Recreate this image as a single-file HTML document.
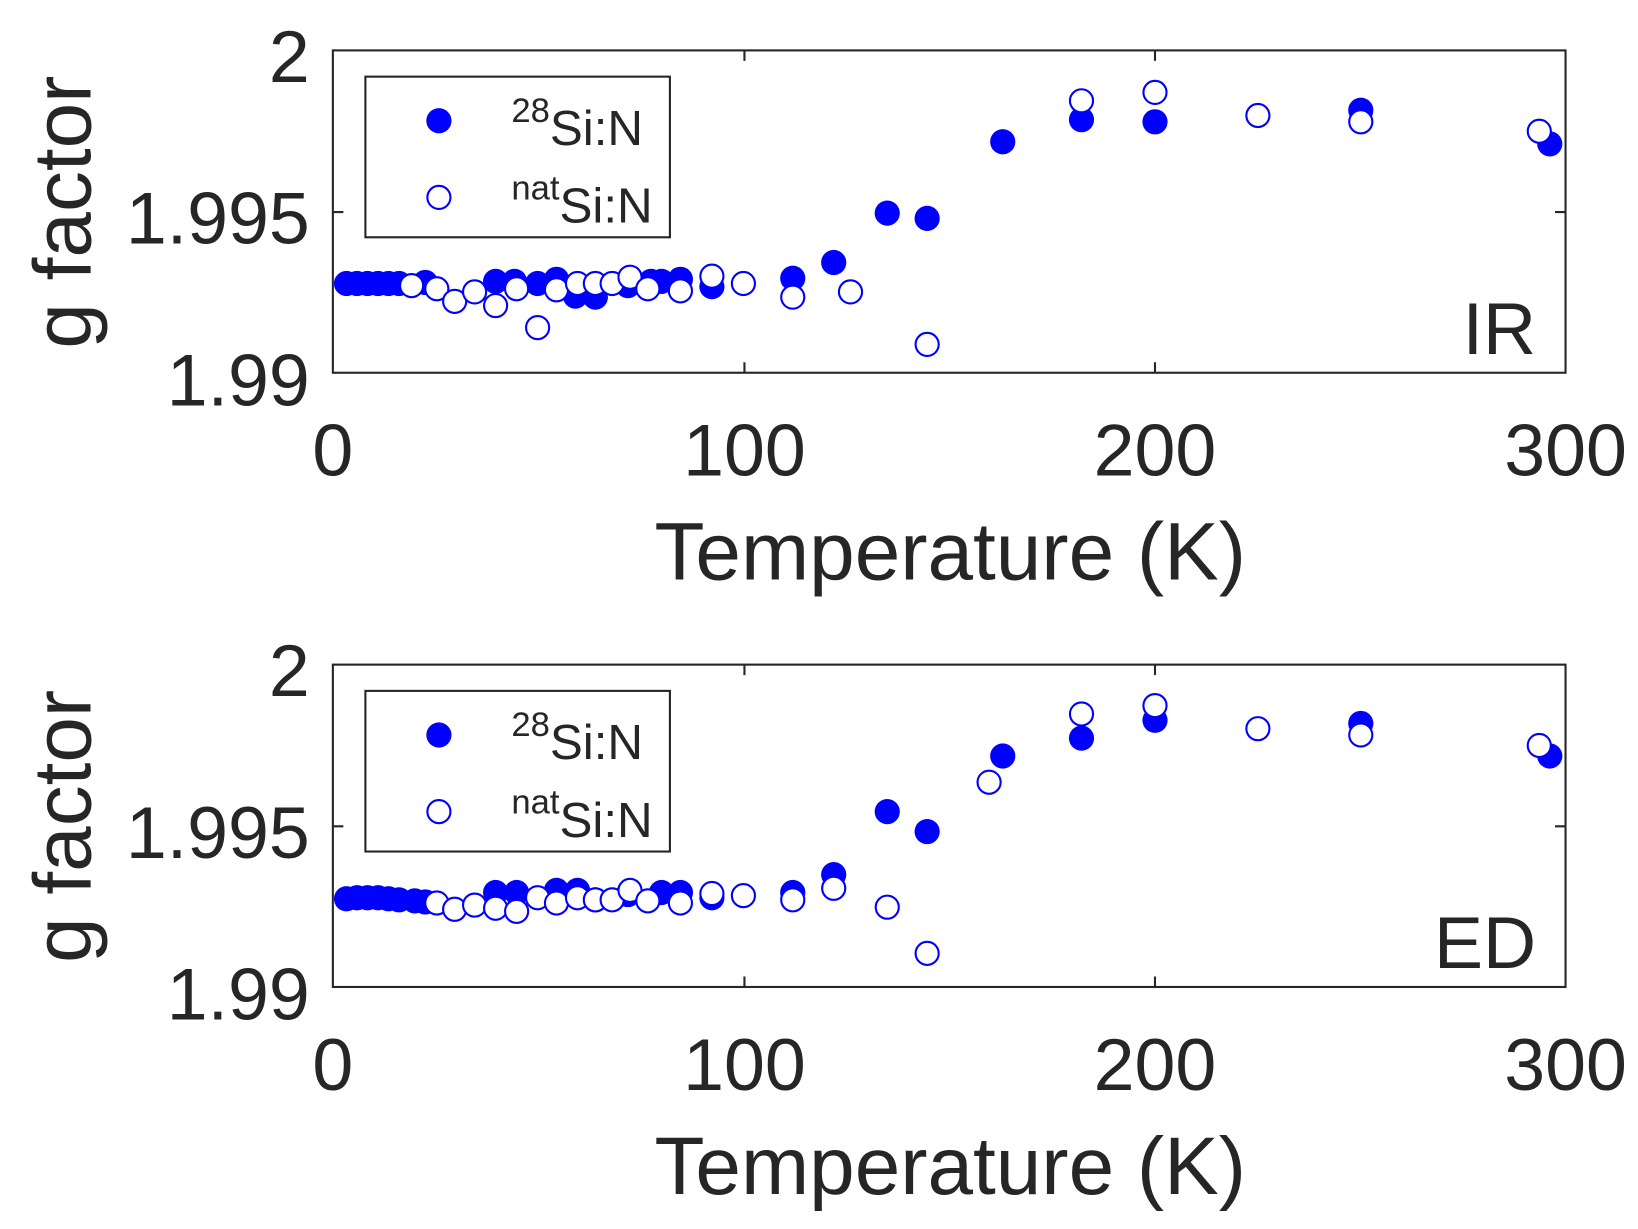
<!DOCTYPE html>
<html><head><meta charset="utf-8"><style>html,body{margin:0;padding:0;background:#fff}svg{display:block}</style></head>
<body>
<svg width="1638" height="1229" viewBox="0 0 1560 1170.5" xmlns="http://www.w3.org/2000/svg" font-family="Liberation Sans, sans-serif" fill="#262626">
<defs>
<g id="axes">
<rect x="317" y="48" width="1174" height="307" fill="none" stroke="#262626" stroke-width="2"/>
<path d="M709 48v10M1100 48v10M709 355v-10M1100 355v-10M317 202h10M1491 202h-10" stroke="#262626" stroke-width="2"/>
<g font-size="70" text-anchor="end"><text x="295" y="78">2</text><text x="295" y="232">1.995</text><text x="295" y="386">1.99</text></g>
<g font-size="70" text-anchor="middle"><text x="317" y="453">0</text><text x="709" y="453">100</text><text x="1100" y="453">200</text><text x="1491" y="453">300</text></g>
<text x="905" y="552" font-size="78" text-anchor="middle">Temperature (K)</text>
<text transform="translate(86,202) rotate(-90)" font-size="78" text-anchor="middle">g factor</text>
<rect x="348" y="73" width="290" height="153" fill="#fff" stroke="#262626" stroke-width="2"/>
<circle cx="418" cy="115" r="12" fill="#0000ff"/>
<circle cx="418" cy="188" r="11" fill="none" stroke="#0000ff" stroke-width="2"/>
<text x="487" y="138" font-size="47"><tspan font-size="33" dy="-22">28</tspan><tspan dy="22">Si:N</tspan></text>
<text x="487" y="212" font-size="47"><tspan font-size="33" dy="-22">nat</tspan><tspan dy="22">Si:N</tspan></text>
</g>
</defs>
<use href="#axes"/>
<use href="#axes" transform="translate(0,585)"/>
<text x="1463" y="337" font-size="70" text-anchor="end">IR</text>
<text x="1463" y="922" font-size="70" text-anchor="end">ED</text>
<g fill="#0000ff">
<circle cx="330" cy="270" r="12"/><circle cx="340" cy="270" r="12"/><circle cx="350" cy="270" r="12"/><circle cx="360" cy="270" r="12"/><circle cx="370" cy="270" r="12"/><circle cx="380" cy="270" r="12"/><circle cx="405" cy="269" r="12"/>
<circle cx="472" cy="268" r="12"/><circle cx="490" cy="268" r="12"/><circle cx="512" cy="270" r="12"/><circle cx="530" cy="266" r="12"/><circle cx="548" cy="282" r="12"/><circle cx="567" cy="283" r="12"/><circle cx="598" cy="272" r="12"/><circle cx="620" cy="268" r="12"/><circle cx="630" cy="268" r="12"/><circle cx="648" cy="266" r="12"/><circle cx="678" cy="273" r="12"/><circle cx="755" cy="265" r="12"/><circle cx="794" cy="250" r="12"/><circle cx="845" cy="203" r="12"/><circle cx="883" cy="208" r="12"/><circle cx="955" cy="135" r="12"/><circle cx="1030" cy="114" r="12"/><circle cx="1100" cy="116" r="12"/><circle cx="1296" cy="105" r="12"/><circle cx="1476" cy="137" r="12"/>
<circle cx="330" cy="856" r="12"/><circle cx="340" cy="855" r="12"/><circle cx="350" cy="855" r="12"/><circle cx="360" cy="855" r="12"/><circle cx="370" cy="856" r="12"/><circle cx="380" cy="857" r="12"/><circle cx="395" cy="858" r="12"/><circle cx="405" cy="859" r="12"/>
<circle cx="472" cy="850" r="12"/><circle cx="492" cy="850" r="12"/><circle cx="530" cy="848" r="12"/><circle cx="550" cy="848" r="12"/><circle cx="567" cy="857" r="12"/><circle cx="598" cy="852" r="12"/><circle cx="630" cy="850" r="12"/><circle cx="648" cy="850" r="12"/><circle cx="678" cy="855" r="12"/><circle cx="755" cy="850" r="12"/><circle cx="794" cy="833" r="12"/><circle cx="845" cy="773" r="12"/><circle cx="883" cy="792" r="12"/><circle cx="955" cy="720" r="12"/><circle cx="1030" cy="703" r="12"/><circle cx="1100" cy="686" r="12"/><circle cx="1296" cy="689" r="12"/><circle cx="1476" cy="720" r="12"/>
</g>
<g fill="#fff" stroke="#0000ff" stroke-width="2">
<circle cx="392" cy="272" r="11"/><circle cx="416" cy="275" r="11"/><circle cx="433" cy="287" r="11"/><circle cx="452" cy="278" r="11"/><circle cx="472" cy="291" r="11"/><circle cx="492" cy="275" r="11"/><circle cx="512" cy="312" r="11"/><circle cx="530" cy="276" r="11"/><circle cx="550" cy="270" r="11"/><circle cx="567" cy="270" r="11"/><circle cx="583" cy="270" r="11"/><circle cx="600" cy="264" r="11"/><circle cx="617" cy="275" r="11"/><circle cx="648" cy="277" r="11"/><circle cx="678" cy="263" r="11"/><circle cx="708" cy="270" r="11"/><circle cx="755" cy="283" r="11"/><circle cx="810" cy="278" r="11"/><circle cx="883" cy="328" r="11"/><circle cx="1030" cy="96" r="11"/><circle cx="1100" cy="88" r="11"/><circle cx="1198" cy="110" r="11"/><circle cx="1296" cy="116" r="11"/><circle cx="1466" cy="125" r="11"/>
<circle cx="416" cy="860" r="11"/><circle cx="433" cy="866" r="11"/><circle cx="452" cy="862" r="11"/><circle cx="472" cy="865" r="11"/><circle cx="492" cy="868" r="11"/><circle cx="512" cy="855" r="11"/><circle cx="530" cy="860" r="11"/><circle cx="550" cy="855" r="11"/><circle cx="567" cy="857" r="11"/><circle cx="583" cy="857" r="11"/><circle cx="600" cy="848" r="11"/><circle cx="617" cy="858" r="11"/><circle cx="648" cy="860" r="11"/><circle cx="678" cy="851" r="11"/><circle cx="708" cy="853" r="11"/><circle cx="755" cy="857" r="11"/><circle cx="794" cy="846" r="11"/><circle cx="845" cy="864" r="11"/><circle cx="883" cy="908" r="11"/><circle cx="942" cy="745" r="11"/><circle cx="1030" cy="680" r="11"/><circle cx="1100" cy="672" r="11"/><circle cx="1198" cy="694" r="11"/><circle cx="1296" cy="700" r="11"/><circle cx="1466" cy="710" r="11"/>
</g>
</svg>
</body></html>
